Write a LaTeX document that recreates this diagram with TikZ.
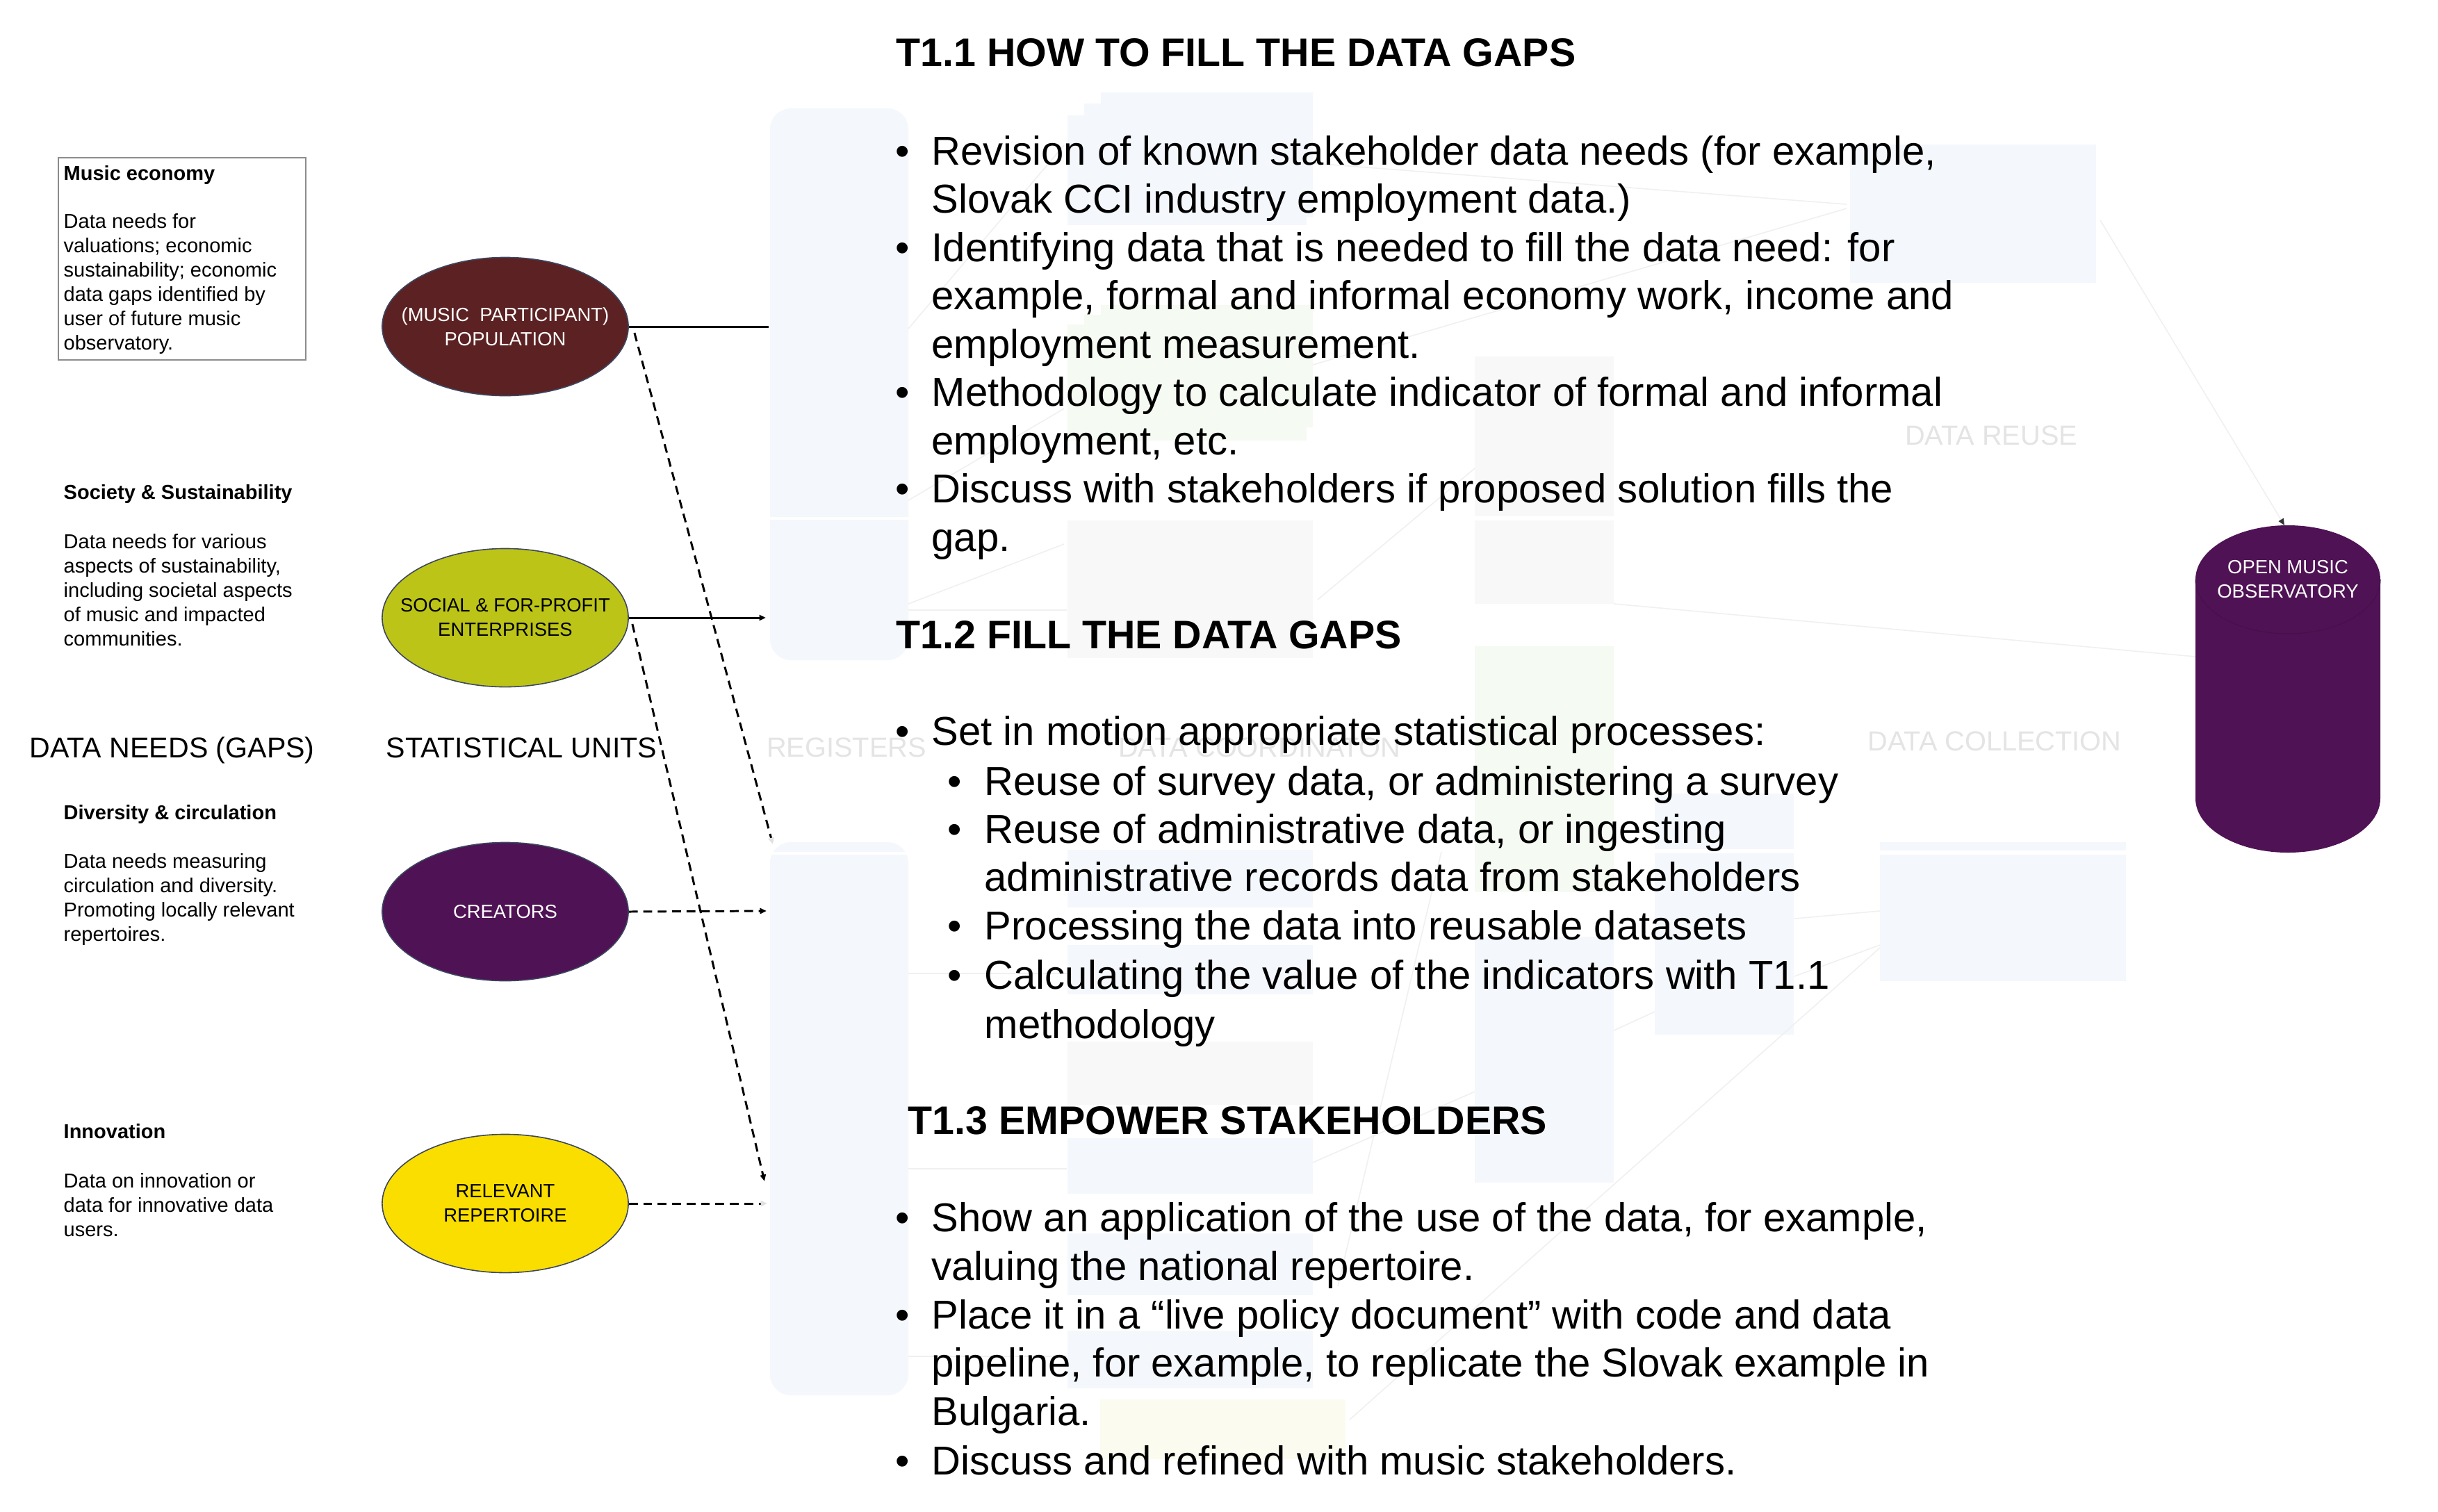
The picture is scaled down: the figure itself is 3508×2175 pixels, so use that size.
\documentclass[tikz,border=0pt]{standalone}
\usepackage{fontspec}
\setmainfont{Liberation Sans}
\usetikzlibrary{shapes.geometric,arrows.meta,calc}
\definecolor{popc}{HTML}{5C2223}
\definecolor{socc}{HTML}{BCC417}
\definecolor{crec}{HTML}{4F1254}
\definecolor{repc}{HTML}{F9DE00}
\definecolor{cylrim}{HTML}{46104B}
\definecolor{ellline}{HTML}{3C4660}
\definecolor{ghostblue}{HTML}{F4F7FC}
\definecolor{ghostgreen}{HTML}{F5FAF2}
\definecolor{ghostgray}{HTML}{F8F8F8}
\definecolor{ghostyel}{HTML}{FBFCEF}
\definecolor{ghostline}{HTML}{F0F0F0}
\definecolor{ghosttext}{HTML}{E4E4E4}
\begin{document}
\begin{tikzpicture}[x=0.01cm,y=-0.01cm,
  body/.style={anchor=base west,inner sep=0pt,font=\fontsize{16.5}{19.8}\selectfont},
  ttl/.style={anchor=base west,inner sep=0pt,font=\fontsize{16.3}{19.6}\selectfont\bfseries},
  smalltxt/.style={anchor=base west,inner sep=0pt,font=\fontsize{8.25}{9.96}\selectfont},
  smallbold/.style={smalltxt,font=\fontsize{8.25}{9.96}\selectfont\bfseries},
  hdr/.style={anchor=base west,inner sep=0pt,font=\fontsize{11.7}{14}\selectfont},
  ghostlbl/.style={anchor=base,inner sep=0pt,text=ghosttext,font=\fontsize{11.3}{13.6}\selectfont},
  unit/.style={ellipse,draw=ellline,line width=0.45pt,minimum width=3.54cm,minimum height=1.99cm,
    inner xsep=-1cm,inner ysep=0pt,align=center,font=\fontsize{7.8}{9.96}\selectfont},
  conn/.style={line width=0.85pt,black},
  dashconn/.style={conn,dash pattern=on 3.6pt off 2.3pt},
  tip/.style={-{Triangle[length=2.7pt,width=2.3pt]}},
  fainttip/.style={-{Triangle[length=2.7pt,width=2.3pt,color=black!12]}},
  ghostconn/.style={draw=ghostline,line width=0.45pt}
]
\useasboundingbox (0,0) rectangle (3508,2175);
\fill[white] (0,0) rectangle (3508,2175);

% ---------------- ghost background elements ----------------
\fill[ghostblue,rounded corners=0.3cm] (1108,156) rectangle (1307,950);
\draw[white,line width=0.9pt] (1108,746) -- (1307,746);
\fill[ghostblue,rounded corners=0.3cm] (1108,1212) rectangle (1307,2008);
\draw[white,line width=0.9pt] (1108,1228) -- (1307,1228);

\fill[ghostblue] (1584,133) rectangle (1889,300);
\fill[ghostblue] (1560,149) rectangle (1889,312);
\fill[ghostblue] (1536,166) rectangle (1880,324);
\fill[ghostgreen] (1584,439) rectangle (1889,600);
\fill[ghostgreen] (1560,453) rectangle (1889,615);
\fill[ghostgreen] (1536,467) rectangle (1880,634);
\fill[ghostgray] (1536,749) rectangle (1889,947);
\fill[ghostblue] (1536,1223) rectangle (1889,1306);
\fill[ghostblue] (1536,1360) rectangle (1889,1431);
\fill[ghostgray] (1536,1499) rectangle (1889,1590);
\fill[ghostblue] (1536,1638) rectangle (1889,1718);
\fill[ghostblue] (1536,1775) rectangle (1889,1864);
\fill[ghostblue] (1536,1915) rectangle (1889,1998);
\fill[ghostyel] (1583,2014) rectangle (1936,2100);

\fill[ghostgray] (2122,513) rectangle (2322,743);
\fill[ghostgray] (2122,749) rectangle (2322,869);
\fill[ghostgreen] (2122,930) rectangle (2322,1284);
\fill[ghostblue] (2122,1348) rectangle (2322,1702);
\fill[ghostblue] (2381,1142) rectangle (2581,1222);
\fill[ghostblue] (2381,1228) rectangle (2581,1489);
\fill[ghostblue] (2705,1212) rectangle (3059,1224);
\fill[ghostblue] (2705,1230) rectangle (3059,1412);
\fill[ghostblue] (2662,208) rectangle (3016,407);

\draw[ghostconn] (1307,473) -- (1531,209);
\draw[ghostconn] (1307,720) -- (1531,588);
\draw[ghostconn] (1307,869) -- (1531,783);
\draw[ghostconn] (1307,878) -- (1535,878);
\draw[ghostconn] (1307,1401) -- (1535,1401);
\draw[ghostconn] (1307,1682) -- (1535,1682);
\draw[ghostconn] (1307,1952) -- (1535,1952);
\draw[ghostconn] (1889,235) -- (2657,294);
\draw[ghostconn] (1889,525) -- (2657,300);
\draw[ghostconn] (1896,863) -- (2122,674);
\draw[ghostconn] (1889,1673) -- (2122,1571);
\draw[ghostconn] (1925,1851) -- (2074,1226);
\draw[ghostconn] (1942,2043) -- (2705,1364);
\draw[ghostconn] (2322,869) -- (3159,945);
\draw[ghostconn] (2582,1322) -- (2705,1311);
\draw[ghostconn] (2582,1405) -- (2705,1360);
\draw[ghostconn] (2322,1483) -- (2381,1456);

\node[ghostlbl] (lblreg) at (1218,1089) {REGISTERS};
\node[ghostlbl] (lblcoord) at (1812,1089) {DATA COORDINATON};
\node[ghostlbl] (lblreuse) at (2865,640) {DATA REUSE};
\node[ghostlbl] (lblcoll) at (2870,1080) {DATA COLLECTION};

% ---------------- left column ----------------
\draw[black!45,line width=0.4pt] (84,227) rectangle (440,518);
\node[smallbold] (me) at (91,259) {Music economy};
\foreach \y/\txt [count=\i] in {318/{Data needs for},353/{valuations; economic},388/{sustainability; economic},
  423/{data gaps identified by},458/{user of future music},493/{observatory.}}
  \node[smalltxt] (me\i) at (91,\y+10) {\txt};

\node[smallbold] (ss) at (91,718) {Society \& Sustainability};
\foreach \y/\txt [count=\i] in {779/{Data needs for various},814/{aspects of sustainability,},849/{including societal aspects},
  884/{of music and impacted},919/{communities.}}
  \node[smalltxt] (ss\i) at (91,\y+10) {\txt};

\node[smallbold] (dc) at (91,1179) {Diversity \& circulation};
\foreach \y/\txt [count=\i] in {1239/{Data needs measuring},1274/{circulation and diversity.},
  1309/{Promoting locally relevant},1344/{repertoires.}}
  \node[smalltxt] (dc\i) at (91,\y+10) {\txt};

\node[smallbold] (inn) at (91,1638) {Innovation};
\foreach \y/\txt [count=\i] in {1699/{Data on innovation or},1734/{data for innovative data},1769/{users.}}
  \node[smalltxt] (inn\i) at (91,\y+10) {\txt};

\node[hdr] (hneeds) at (42,1090) {DATA NEEDS (GAPS)};
\node[hdr] (hunits) at (555,1090) {STATISTICAL UNITS};

% ---------------- statistical units ----------------
\node[unit,fill=popc,text=white] (e1) at (727,470) {(MUSIC\ \ PARTICIPANT)\\POPULATION};
\node[unit,fill=socc,text=black] (e2) at (727,889) {SOCIAL \& FOR-PROFIT\\ENTERPRISES};
\node[unit,fill=crec,text=white] (e3) at (727,1312) {CREATORS};
\node[unit,fill=repc,text=black] (e4) at (727,1732) {RELEVANT\\REPERTOIRE};

\coordinate (t1) at (1106,470);
\coordinate (t2) at (1102,889);
\coordinate (t3) at (1103,1311);
\coordinate (t4) at (1104,1732);
\coordinate (t5) at (1112,1215);
\coordinate (t6) at (1100,1700);

\draw[conn] (e1.east) -- (t1);
\draw[conn,tip] (e2.east) -- (t2);
\draw[dashconn,tip] (e3.east) -- (t3);
\draw[dashconn,fainttip] (e4.east) -- (t4);
\draw[dashconn,fainttip] ($(e1.east)+(8,9)$) -- (t5);
\draw[dashconn,tip] ($(e2.east)+(5,9)$) -- (t6);

% ---------------- open music observatory ----------------
\fill[crec] (3159,834) -- (3159,1149) arc[start angle=180,end angle=0,x radius=133,y radius=78]
  -- (3425,834) arc[start angle=0,end angle=-180,x radius=133,y radius=78] -- cycle;
\draw[cylrim,line width=0.3pt] (3159,834) arc[start angle=180,end angle=0,x radius=133,y radius=78];
\node[inner sep=0pt,align=center,text=white,font=\fontsize{7.8}{9.96}\selectfont] (omo) at (3292,834) {OPEN MUSIC\\OBSERVATORY};
\coordinate (omotop) at (3287,756);
\coordinate (reusebox) at (3022,317);
\draw[ghostconn,-{Triangle[length=2.7pt,width=2.3pt,color=black!80]}] (reusebox) -- (omotop);

% ---------------- T1.1 ----------------
\node[ttl] (h11) at (1289,95) {T1.1 HOW TO FILL THE DATA GAPS};
\foreach \y [count=\i] in {217,356,564.5,703.5}
  \node[body] (ba\i) at (1288,\y+20) {•};
\foreach \y/\txt [count=\i] in {
  217/{Revision of known stakeholder data needs (for example,},
  286.5/{Slovak CCI industry employment data.)},
  356/{Identifying data that is needed to fill the data need: for},
  425.5/{example, formal and informal economy work, income and},
  495/{employment measurement.},
  564.5/{Methodology to calculate indicator of formal and informal},
  634/{employment, etc.},
  703.5/{Discuss with stakeholders if proposed solution fills the},
  773/{gap.}}
  \node[body] (la\i) at (1340,\y+20) {\txt};

% ---------------- T1.2 ----------------
\node[ttl] (h12) at (1289,933) {T1.2 FILL THE DATA GAPS};
\node[body] (bb0) at (1288,1072) {•};
\node[body] (lb0) at (1340,1072) {Set in motion appropriate statistical processes:};
\foreach \y [count=\i] in {1124,1193,1332,1403}
  \node[body] (bb\i) at (1363,\y+20) {•};
\foreach \y/\txt [count=\i] in {
  1124/{Reuse of survey data, or administering a survey},
  1193/{Reuse of administrative data, or ingesting},
  1262/{administrative records data from stakeholders},
  1332/{Processing the data into reusable datasets},
  1403/{Calculating the value of the indicators with T1.1},
  1474/{methodology}}
  \node[body] (lb\i) at (1416,\y+20) {\txt};

% ---------------- T1.3 ----------------
\node[ttl] (h13) at (1306,1632) {T1.3 EMPOWER STAKEHOLDERS};
\foreach \y [count=\i] in {1752,1892,2102}
  \node[body] (bc\i) at (1288,\y+20) {•};
\foreach \y/\txt [count=\i] in {
  1752/{Show an application of the use of the data, for example,},
  1822/{valuing the national repertoire.},
  1892/{Place it in a “live policy document” with code and data},
  1961/{pipeline, for example, to replicate the Slovak example in},
  2031/{Bulgaria.},
  2102/{Discuss and refined with music stakeholders.}}
  \node[body] (lc\i) at (1340,\y+20) {\txt};
\end{tikzpicture}
\end{document}
